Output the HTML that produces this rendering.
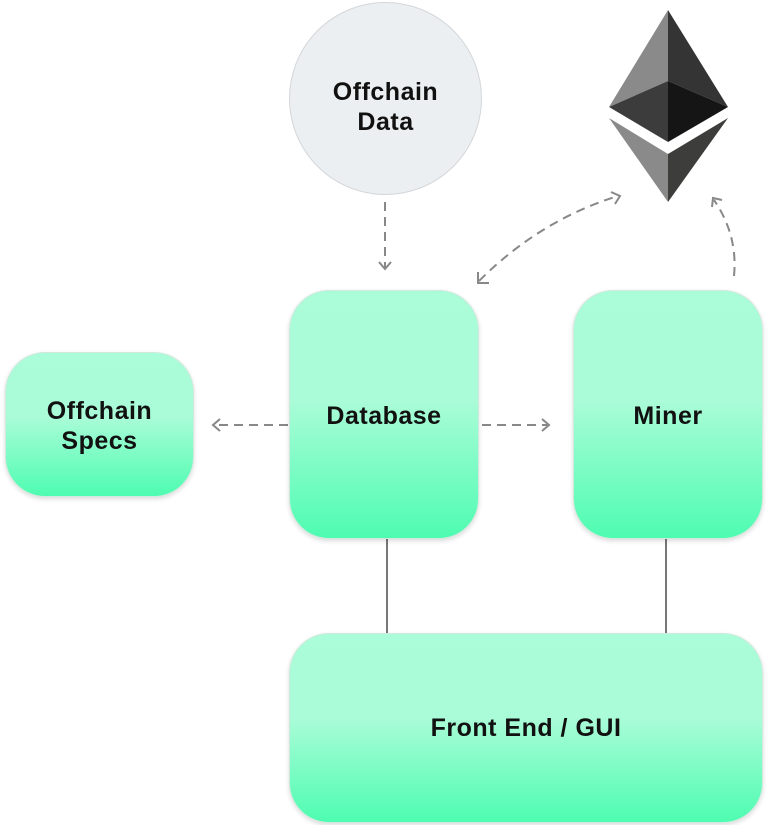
<!DOCTYPE html>
<html><head><style>
html,body{margin:0;padding:0;background:#fff;width:772px;height:825px;overflow:hidden;position:relative;font-family:"Liberation Sans",sans-serif}
.box{position:absolute;border-radius:40px;background:linear-gradient(to bottom,#abfcd9 0%,#a9fcd7 45%,#4efcb1 100%);box-shadow:0 2px 5px rgba(0,0,0,.15);border:1px solid #cfe9dd;box-sizing:border-box;display:flex;align-items:center;justify-content:center;text-align:center;font-weight:bold;font-size:25px;line-height:30px;color:#111;letter-spacing:0.5px}
.circ{position:absolute;left:289px;top:2px;width:193px;height:193px;border-radius:50%;background:#eceff1;border:1px solid #d3d7da;box-sizing:border-box;display:flex;align-items:center;justify-content:center;text-align:center;font-weight:bold;font-size:25px;line-height:30px;color:#111;letter-spacing:0.5px;padding-top:16px}
svg{position:absolute;left:0;top:0}
</style></head><body>
<svg width="772" height="825">
<g fill="none" stroke="#888" stroke-width="2" stroke-dasharray="9,6">
<path d="M385 202 L385 268"/>
<path d="M288 425 L214 425"/>
<path d="M482 425 L548 425"/>
<path d="M479 281 Q540 220 618 196"/>
<path d="M734 276 Q738 235 714 200"/>
</g>
<g fill="none" stroke="#888" stroke-width="2">
<path d="M379 262 L385 269 L391 262"/>
<path d="M220 419 L213 425 L220 431"/>
<path d="M542 419 L549 425 L542 431"/>
<path d="M478 272 L478 283 L489 283"/>
<path d="M611 192 L620 196 L615 204"/>
<path d="M712 207 L713 198 L722 200"/>
</g>
<line x1="387" y1="538" x2="387" y2="634" stroke="#777" stroke-width="2"/>
<line x1="666" y1="538" x2="666" y2="634" stroke="#777" stroke-width="2"/>
<polygon points="668,10 609,107 668,81" fill="#8a8a8a"/>
<polygon points="668,10 728,107 668,81" fill="#343434"/>
<polygon points="609,107 668,81 668,142" fill="#3c3c3c"/>
<polygon points="728,107 668,81 668,142" fill="#151515"/>
<polygon points="609,118 668,154 668,202" fill="#8a8a8a"/>
<polygon points="728,118 668,154 668,202" fill="#3d3d3b"/>
</svg>
<div class="circ">Offchain<br>Data</div>
<div class="box" style="left:5px;top:352px;width:189px;height:145px;padding-top:2px">Offchain<br>Specs</div>
<div class="box" style="left:289px;top:290px;width:190px;height:249px;padding-top:2px">Database</div>
<div class="box" style="left:573px;top:290px;width:190px;height:249px;padding-top:2px">Miner</div>
<div class="box" style="left:289px;top:633px;width:474px;height:190px">Front End / GUI</div>
</body></html>
